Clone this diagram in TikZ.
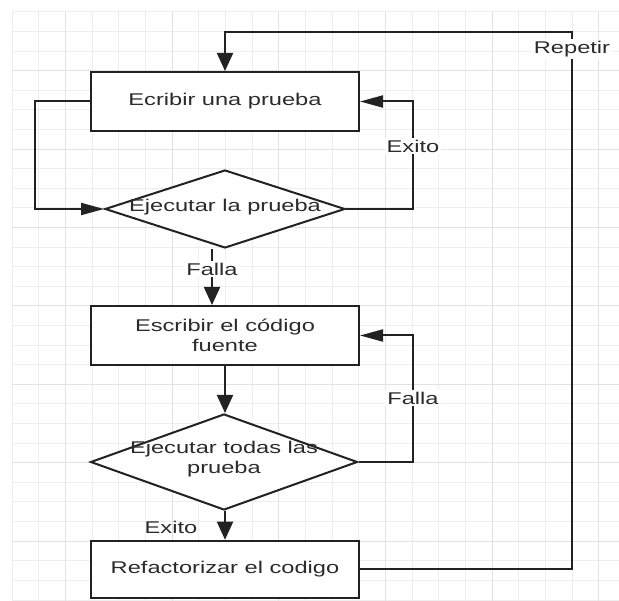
\documentclass[tikz,border=0pt]{standalone}
\usepackage{fontspec}
\setmainfont[FakeStretch=1.39]{Liberation Sans}
\usetikzlibrary{arrows.meta,shapes.geometric}
\definecolor{ln}{HTML}{222222}
\definecolor{tx}{HTML}{2B2B2B}
\definecolor{gmin}{HTML}{EEEEEE}
\definecolor{gmaj}{HTML}{E2E2E2}
\begin{document}
\begin{tikzpicture}[x=1pt,y=-1pt,
 txt/.style={text=tx, font=\fontsize{17}{20}\selectfont, align=center, inner sep=0pt},
 box/.style={txt, draw=ln, line width=2pt, fill=white, minimum width=268pt, minimum height=59pt},
 dia/.style={draw=ln, line width=2pt, fill=white, diamond, inner sep=0pt},
 lbl/.style={txt, fill=white, inner sep=2pt},
 conn/.style={draw=ln, line width=2pt},
 va/.style={conn, -{Triangle[length=18pt,width=16pt]}},
 ha/.style={conn, -{Triangle[length=23pt,width=12pt]}},
]
\fill[white] (0,0) rectangle (619,601);
\useasboundingbox (0,0) rectangle (619,601);
% grid
\foreach \k in {0,...,22} \draw[gmin, line width=1pt] ({12+26.67*\k},12) -- ({12+26.67*\k},601);
\foreach \k in {0,...,30} \draw[gmin, line width=1pt] (12,{12+19.6*\k}) -- (619,{12+19.6*\k});
\foreach \k in {0,...,5} \draw[gmaj, line width=1pt] ({12+26.67*(2+4*\k)},12) -- ({12+26.67*(2+4*\k)},601);
\foreach \k in {0,...,6} \draw[gmaj, line width=1pt] (12,{12+19.6*(3+4*\k)}) -- (619,{12+19.6*(3+4*\k)});

% nodes
\node[box] (b1) at (225,101.5) {Ecribir una prueba};
\node[dia, minimum width=240pt, minimum height=78pt] (d1) at (225,209) {};
\node[txt] (t1) at (225,207) {Ejecutar la prueba};
\node[box] (b2) at (225,335.5) {Escribir el código\\fuente};
\node[dia, minimum width=267pt, minimum height=96pt] (d2) at (224,462) {};
\node[txt] (t2) at (224,459) {Ejecutar todas las\\prueba};
\node[box, minimum height=57.6pt] (b3) at (225,569.5) {Refactorizar el codigo};

\coordinate (r1) at (572,32);
\coordinate (xr) at (413,0);

% connectors
\draw[va] (b3.east) -| (r1) -| (b1.north);
\node[lbl] (lr) at (572,49) {Repetir};

\draw[ha] (b1.west) -- ++(-55,0) |- (d1.west);

\draw[ha] (d1.east) -- (d1.east -| xr) |- (b1.east);
\node[lbl] (le1) at (413,146) {Exito};

\draw[va] ([xshift=-13pt]d1.south) -- ([xshift=-13pt]b2.north);
\node[lbl] (lf1) at (212,269) {Falla};

\draw[va] (b2.south) -- (d2.north -| b2.south);

\draw[ha] (d2.east) -- (d2.east -| xr) |- (b2.east);
\node[lbl] (lf2) at (413,398) {Falla};

\draw[va] (d2.south -| b3.north) -- (b3.north);
\node[txt] (le2) at (171,527) {Exito};
\end{tikzpicture}
\end{document}
